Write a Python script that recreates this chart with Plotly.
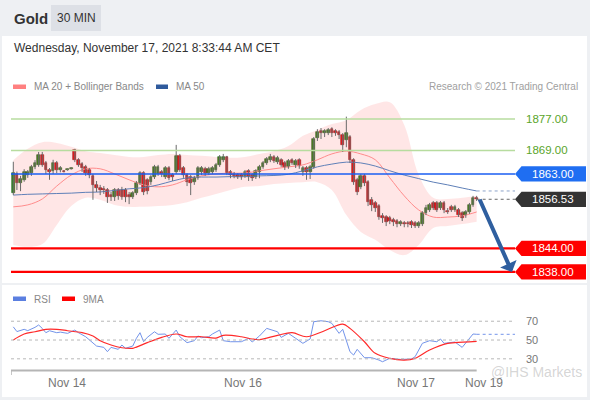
import plotly.graph_objects as go

W, H = 590, 400

# ---------------- data ----------------
opens = [1858.1, 1863.0, 1860.7, 1861.5, 1862.7, 1863.2, 1864.8, 1865.3, 1867.8, 1865.8,
         1864.0, 1863.7, 1865.8, 1864.0, 1863.8, 1864.0, 1864.3, 1869.1, 1866.5, 1865.5,
         1864.8, 1864.0, 1862.5, 1860.2, 1859.4, 1859.1, 1858.9, 1857.6, 1857.1, 1858.9,
         1858.9, 1858.9, 1857.6, 1857.1, 1858.1, 1860.7, 1863.2, 1861.4, 1860.9, 1862.2,
         1863.0, 1863.5, 1862.2, 1864.5, 1862.7, 1863.5, 1867.6, 1864.5, 1862.7, 1862.2,
         1860.9, 1862.0, 1863.5, 1864.3, 1863.2, 1863.5, 1864.0, 1865.3, 1866.5, 1867.3,
         1863.5, 1863.0, 1862.7, 1862.7, 1862.5, 1863.7, 1862.7, 1862.2, 1863.5, 1864.8,
         1865.8, 1866.5, 1867.3, 1866.0, 1866.5, 1865.8, 1864.8, 1866.5, 1865.3, 1866.5,
         1863.5, 1864.5, 1863.5, 1864.8, 1872.2, 1873.9, 1873.4, 1873.4, 1874.4, 1873.9,
         1873.7, 1872.9, 1871.6, 1872.4, 1866.5, 1861.5, 1859.7, 1862.5, 1860.9, 1856.4,
         1855.6, 1854.8, 1852.3, 1852.0, 1851.8, 1851.3, 1851.0, 1850.2, 1850.5, 1850.5,
         1850.7, 1850.5, 1849.7, 1850.2, 1853.0, 1853.8, 1855.6, 1855.6, 1854.3, 1855.6,
         1853.5, 1854.6, 1853.8, 1853.8, 1853.0, 1852.5, 1853.3, 1855.1, 1856.9]
highs = [1866.1, 1863.6, 1862.5, 1864.2, 1864.0, 1865.3, 1866.5, 1868.6, 1868.6, 1866.3,
         1864.5, 1866.6, 1866.3, 1865.0, 1864.0, 1864.4, 1864.7, 1869.4, 1867.0, 1866.0,
         1865.3, 1864.5, 1863.0, 1861.2, 1860.2, 1859.9, 1859.4, 1858.4, 1859.4, 1859.4,
         1859.7, 1859.4, 1858.4, 1858.6, 1861.2, 1863.7, 1863.7, 1861.9, 1862.7, 1865.3,
         1865.3, 1864.0, 1865.0, 1865.0, 1863.2, 1870.4, 1868.1, 1865.0, 1863.2, 1862.7,
         1862.5, 1865.0, 1865.0, 1864.8, 1864.8, 1865.0, 1865.8, 1867.8, 1868.1, 1867.6,
         1864.0, 1863.5, 1863.2, 1863.2, 1864.0, 1864.2, 1863.2, 1864.2, 1865.3, 1866.3,
         1867.3, 1868.1, 1867.8, 1867.6, 1867.0, 1866.3, 1866.8, 1867.0, 1866.8, 1867.0,
         1865.0, 1865.0, 1865.3, 1872.4, 1874.4, 1874.7, 1874.4, 1874.7, 1874.9, 1874.4,
         1874.2, 1873.4, 1877.6, 1872.9, 1867.0, 1862.0, 1863.0, 1863.0, 1861.4, 1857.1,
         1856.1, 1855.3, 1853.0, 1852.5, 1852.3, 1851.8, 1851.5, 1851.2, 1851.0, 1851.0,
         1851.2, 1851.0, 1851.0, 1853.5, 1855.1, 1855.6, 1856.1, 1856.1, 1856.1, 1856.1,
         1854.3, 1855.1, 1855.1, 1854.3, 1853.5, 1853.8, 1855.6, 1857.4, 1857.4]
lows = [1857.6, 1858.9, 1858.6, 1861.0, 1862.0, 1862.5, 1864.2, 1864.8, 1864.8, 1863.0,
        1861.5, 1863.0, 1863.2, 1863.4, 1863.4, 1863.8, 1864.1, 1866.0, 1864.8, 1863.5,
        1862.5, 1861.9, 1856.4, 1858.4, 1857.6, 1857.9, 1855.6, 1856.1, 1856.1, 1856.4,
        1856.4, 1855.8, 1855.3, 1856.6, 1857.6, 1860.2, 1857.6, 1857.8, 1860.2, 1861.7,
        1862.5, 1862.2, 1861.7, 1861.4, 1861.2, 1863.0, 1863.5, 1862.0, 1859.9, 1857.6,
        1860.2, 1861.5, 1862.7, 1862.5, 1862.7, 1863.0, 1863.5, 1864.8, 1866.0, 1862.7,
        1861.9, 1861.9, 1861.7, 1861.5, 1862.0, 1861.2, 1861.2, 1861.7, 1861.9, 1864.3,
        1865.3, 1866.0, 1865.8, 1865.5, 1864.8, 1864.0, 1864.3, 1865.3, 1864.5, 1864.3,
        1862.5, 1861.5, 1861.7, 1864.3, 1871.4, 1871.9, 1872.4, 1872.9, 1872.4, 1872.7,
        1871.9, 1868.6, 1869.8, 1865.8, 1860.2, 1857.6, 1859.1, 1859.9, 1854.8, 1853.5,
        1853.3, 1851.3, 1850.5, 1849.7, 1850.2, 1849.7, 1849.4, 1849.7, 1849.4, 1849.4,
        1849.2, 1849.2, 1849.2, 1849.7, 1852.5, 1853.3, 1853.8, 1853.3, 1853.8, 1853.0,
        1852.8, 1853.3, 1853.3, 1852.0, 1851.0, 1851.8, 1852.8, 1854.6, 1856.1]
closes = [1863.2, 1860.7, 1861.7, 1863.5, 1863.5, 1864.8, 1865.8, 1867.8, 1865.3, 1864.0,
          1863.5, 1865.8, 1864.0, 1864.5, 1863.6, 1864.2, 1864.5, 1866.5, 1865.3, 1864.5,
          1863.2, 1862.7, 1860.2, 1859.4, 1858.9, 1858.9, 1857.1, 1857.1, 1858.9, 1857.4,
          1857.1, 1857.0, 1857.1, 1858.1, 1860.7, 1863.2, 1858.4, 1858.6, 1862.2, 1864.8,
          1864.8, 1863.0, 1864.5, 1862.0, 1862.2, 1867.6, 1864.0, 1862.7, 1860.9, 1860.7,
          1862.0, 1864.5, 1864.5, 1863.2, 1864.3, 1864.5, 1865.3, 1867.3, 1867.3, 1863.2,
          1862.7, 1862.5, 1862.2, 1862.3, 1863.5, 1862.2, 1862.0, 1863.7, 1864.8, 1865.8,
          1866.8, 1867.3, 1866.3, 1867.0, 1865.3, 1864.8, 1866.3, 1865.8, 1866.3, 1865.0,
          1864.5, 1863.5, 1864.8, 1871.9, 1873.7, 1873.4, 1873.9, 1874.2, 1873.4, 1873.4,
          1872.9, 1870.4, 1873.4, 1866.5, 1860.9, 1858.4, 1862.5, 1860.7, 1855.8, 1855.1,
          1854.3, 1852.0, 1851.8, 1850.7, 1851.0, 1850.7, 1850.2, 1850.7, 1850.2, 1850.2,
          1850.0, 1849.7, 1850.5, 1853.0, 1854.3, 1855.1, 1854.3, 1853.8, 1855.6, 1853.8,
          1853.3, 1853.8, 1854.6, 1852.5, 1851.8, 1853.3, 1855.1, 1856.9, 1856.53]

bb_idx = [0, 4, 8, 12, 16, 20, 24, 28, 32, 36, 40, 44, 48, 52, 56, 60, 64,
          68, 72, 76, 80, 84, 88, 92, 96, 100, 104, 108, 112, 116, 120, 124, 128]
bb_upper = [1866.5, 1869.4, 1871.1, 1870.9, 1869.9, 1868.8, 1868.3, 1867.8, 1867.3, 1867.3,
            1867.8, 1868.1, 1867.8, 1867.6, 1867.3, 1867.1, 1867.3, 1868.1, 1868.8, 1870.1,
            1872.7, 1874.2, 1875.7, 1876.7, 1879.3, 1880.8, 1881.3, 1875.5, 1862.7, 1856.9,
            1856.6, 1856.9, 1857.4]
bb_lower = [1844.9, 1844.4, 1845.1, 1850.0, 1854.8, 1856.9, 1856.4, 1855.1, 1854.6, 1854.6,
            1854.8, 1855.1, 1855.8, 1856.9, 1857.9, 1858.9, 1859.7, 1859.9, 1860.4, 1860.7,
            1860.9, 1860.9, 1858.9, 1852.5, 1848.2, 1846.2, 1843.6, 1842.3, 1844.9, 1849.2,
            1849.7, 1850.2, 1850.8]
ma20 = [1854.6, 1855.1, 1856.6, 1859.9, 1862.7, 1864.3, 1864.3, 1863.0, 1861.5, 1860.2,
        1859.7, 1860.2, 1861.5, 1862.5, 1863.0, 1863.2, 1863.2, 1863.8, 1864.3, 1864.8,
        1865.3, 1866.6, 1868.1, 1868.8, 1868.1, 1866.6, 1862.0, 1857.4, 1853.8, 1852.0,
        1852.0, 1852.3, 1853.3]
ma50 = [1857.6, 1857.8, 1857.9, 1858.0, 1858.1, 1858.3, 1858.4, 1858.8, 1859.2, 1859.5,
        1860.2, 1861.2, 1862.0, 1862.2, 1862.2, 1862.3, 1862.3, 1862.5, 1862.6, 1862.9,
        1863.8, 1864.8, 1865.5, 1866.0, 1865.8, 1865.0, 1863.8, 1862.7, 1861.8, 1860.9,
        1860.2, 1859.4, 1858.65]

rsi_idx = [0, 1, 3, 4, 6, 7, 8, 9, 10, 12, 13, 15, 17, 18, 20, 22, 23, 25, 26, 27,
           29, 30, 31, 33, 34, 35, 36, 37, 39, 40, 42, 43, 45, 46, 48, 50, 51, 52, 54, 55,
           57, 58, 60, 63, 65, 66, 68, 70, 73, 74, 76, 78, 80, 82, 83, 85, 87, 88, 90, 91,
           93, 94, 95, 97, 99, 101, 102, 104, 107, 110, 111, 113, 115, 117, 118, 119, 122, 124,
           127, 128]
rsi_val = [64.0, 59.0, 61.4, 60.0, 63.5, 66.0, 62.4, 57.8, 59.9, 57.8, 58.4, 57.1, 60.6, 57.8,
           53.5, 46.5, 43.6, 42.2, 37.6, 42.2, 40.1, 44.7, 41.2, 43.6, 51.8, 57.8, 48.2, 52.8,
           58.8, 56.1, 56.4, 51.8, 60.6, 53.5, 47.2, 49.3, 54.3, 52.5, 53.5, 56.4, 60.6, 49.3,
           48.2, 48.2, 51.8, 47.9, 54.3, 62.4, 58.8, 52.8, 57.1, 51.8, 46.5, 51.1, 69.5, 70.5,
           69.5, 67.7, 57.1, 61.4, 37.6, 34.0, 40.1, 31.2, 31.2, 28.7, 26.9, 30.5, 29.4, 29.8,
           32.3, 46.5, 49.3, 48.2, 51.1, 46.5, 47.9, 42.2, 56.4, 56.1]
ma9_idx = [0, 3, 6, 9, 12, 15, 19, 22, 24, 27, 30, 33, 34, 37, 41, 45, 48, 52, 56, 58,
           63, 66, 68, 73, 77, 81, 86, 91, 93, 97, 100, 104, 108, 111, 115, 120, 122, 128]
ma9_val = [50.0, 56.4, 58.8, 61.4, 61.4, 59.9, 57.8, 54.3, 49.3, 44.7, 41.8, 41.2, 42.5, 47.2,
           52.8, 56.4, 53.5, 53.5, 52.1, 55.0, 53.5, 51.1, 50.5, 55.0, 57.8, 53.5, 59.9, 67.0,
           62.4, 48.2, 35.8, 30.5, 28.7, 30.5, 39.4, 46.5, 47.2, 48.5]

resistances = [1877.0, 1869.0]
pivot = 1863.0
supports = [1844.0, 1838.0]
last_price = closes[-1]
tick_pos = [14.8, 63.4, 111.2, 130.0]
tick_text = ["Nov 14", "Nov 16", "Nov 17", "Nov 19"]
rsi_levels = [70, 50, 30]

# ---------------- layout helpers ----------------
def px(x):
    return x / W

def py(y):
    return 1 - y / H

FONT = "Liberation Sans, Arial, sans-serif"
X_RANGE = [-0.635, 138.59]
Y_RANGE = [1834.93, 1882.354]
RSI_RANGE = [18.1, 92.6]
n = len(closes)
idx = list(range(n))

fig = go.Figure()

# Bollinger band
fig.add_trace(go.Scatter(x=bb_idx, y=bb_upper, mode="lines", line=dict(width=0, shape="spline"),
                         hoverinfo="skip", showlegend=False))
fig.add_trace(go.Scatter(x=bb_idx, y=bb_lower, mode="lines", line=dict(width=0, shape="spline"),
                         fill="tonexty", fillcolor="rgba(255,60,60,0.13)", hoverinfo="skip",
                         showlegend=False))
fig.add_trace(go.Scatter(x=bb_idx, y=ma20, mode="lines",
                         line=dict(color="#ff8c8c", width=1, shape="spline"), showlegend=False))
fig.add_trace(go.Scatter(x=bb_idx, y=ma50, mode="lines",
                         line=dict(color="#5f80b8", width=1, shape="spline"), showlegend=False))
fig.add_trace(go.Scatter(x=[bb_idx[-1], X_RANGE[1]], y=[ma50[-1], ma50[-1]], mode="lines",
                         line=dict(color="#8da3c9", width=1, dash="dot"), showlegend=False))
fig.add_trace(go.Scatter(x=[idx[-1], X_RANGE[1]], y=[last_price, last_price], mode="lines",
                         line=dict(color="#666666", width=1, dash="dot"), showlegend=False))

# wicks
wx, wy = [], []
for i in idx:
    wx += [i, i, None]
    wy += [lows[i], highs[i], None]
fig.add_trace(go.Scatter(x=wx, y=wy, mode="lines", line=dict(color="#6a6a6a", width=1),
                         hoverinfo="skip", showlegend=False))

# bodies
base = [min(o, c) for o, c in zip(opens, closes)]
hgt = [abs(c - o) for o, c in zip(opens, closes)]
up = [c >= o for o, c in zip(opens, closes)]
fig.add_trace(go.Bar(x=idx, y=hgt, base=base, width=0.75,
                     marker=dict(color=["#2f8a22" if u else "#e3161c" for u in up],
                                 line=dict(color=["#1f5a17" if u else "#8a1010" for u in up], width=0.6)),
                     showlegend=False))

# RSI
fig.add_trace(go.Scatter(x=rsi_idx, y=rsi_val, mode="lines", xaxis="x2", yaxis="y2",
                         line=dict(color="#7394ea", width=1), showlegend=False))
fig.add_trace(go.Scatter(x=[rsi_idx[-1], X_RANGE[1]], y=[rsi_val[-1], rsi_val[-1]], mode="lines",
                         xaxis="x2", yaxis="y2",
                         line=dict(color="#7394ea", width=1, dash="dot"), showlegend=False))
fig.add_trace(go.Scatter(x=ma9_idx, y=ma9_val, mode="lines", xaxis="x2", yaxis="y2",
                         line=dict(color="#ff2a2a", width=1.2, shape="spline"), showlegend=False))

shapes = []
# panels
shapes.append(dict(type="rect", xref="paper", yref="paper", x0=px(2), x1=px(587), y0=py(36), y1=py(283),
                   fillcolor="white", line=dict(width=0), layer="below"))
shapes.append(dict(type="rect", xref="paper", yref="paper", x0=px(2), x1=px(587), y0=py(285), y1=py(397),
                   fillcolor="white", line=dict(width=0), layer="below"))
shapes.append(dict(type="rect", xref="paper", yref="paper", x0=px(51), x1=px(101), y0=py(5), y1=py(31),
                   fillcolor="#dde0e6", line=dict(width=0), layer="below"))
# legend swatches
shapes.append(dict(type="rect", xref="paper", yref="paper", x0=px(13), x1=px(26), y0=py(89), y1=py(84.5),
                   fillcolor="#ff8080", line=dict(width=0)))
shapes.append(dict(type="rect", xref="paper", yref="paper", x0=px(156), x1=px(168), y0=py(89), y1=py(84.5),
                   fillcolor="#2f5a9c", line=dict(width=0)))
shapes.append(dict(type="rect", xref="paper", yref="paper", x0=px(13), x1=px(26), y0=py(301), y1=py(296.5),
                   fillcolor="#5b7fe0", line=dict(width=0)))
shapes.append(dict(type="rect", xref="paper", yref="paper", x0=px(62), x1=px(75), y0=py(301), y1=py(296.5),
                   fillcolor="#ff0000", line=dict(width=0)))
# level lines
for r in resistances:
    shapes.append(dict(type="line", xref="x domain", yref="y", x0=0, x1=1, y0=r, y1=r,
                       line=dict(color="#b7dc9f", width=1.5)))
shapes.append(dict(type="line", xref="x domain", yref="y", x0=0, x1=1, y0=pivot, y1=pivot,
                   line=dict(color="#1a5ef2", width=1.5)))
for s in supports:
    shapes.append(dict(type="line", xref="x domain", yref="y", x0=0, x1=1, y0=s, y1=s,
                       line=dict(color="#ff0000", width=2.2)))
# RSI grid
for lv in rsi_levels:
    shapes.append(dict(type="line", xref="x2 domain", yref="y2", x0=0, x1=1, y0=lv, y1=lv,
                       line=dict(color="#b8b8b8", width=1, dash="dot")))
# RSI x axis line
shapes.append(dict(type="line", xref="x2", yref="paper", x0=X_RANGE[0], x1=idx[-1], y0=py(370.5), y1=py(370.5),
                   line=dict(color="#b5b5b5", width=2)))
shapes.append(dict(type="line", xref="x2", yref="paper", x0=X_RANGE[0], x1=X_RANGE[0], y0=py(370), y1=py(375),
                   line=dict(color="#b5b5b5", width=1.5)))

# tags
def tag(price, color):
    h = 1.95
    tip, left, right = px(515), px(521.5), px(586)
    path = (f"M {tip},{price} L {left},{price + h} L {right},{price + h} "
            f"L {right},{price - h} L {left},{price - h} Z")
    return dict(type="path", xref="paper", yref="y", path=path, fillcolor=color, line=dict(width=0))

shapes.append(tag(pivot, "#1f6ef2"))
shapes.append(tag(last_price, "#333333"))
for s in supports:
    shapes.append(tag(s, "#ff0000"))

ann = []
# watermark first so that tick labels are drawn over it
ann.append(dict(x=px(584), y=py(372), xref="paper", yref="paper", text="@IHS Markets", showarrow=False,
                xanchor="right", yanchor="middle", font=dict(size=14, color="rgba(150,150,150,0.4)", family=FONT)))
ann.append(dict(x=px(12), y=py(18), xref="paper", yref="paper", text="<b>Gold</b>", showarrow=False,
                xanchor="left", yanchor="middle", font=dict(size=15, color="#333333", family=FONT)))
ann.append(dict(x=px(76), y=py(18), xref="paper", yref="paper", text="30 MIN", showarrow=False,
                xanchor="center", yanchor="middle", font=dict(size=12, color="#333333", family=FONT)))
ann.append(dict(x=px(12), y=py(48), xref="paper", yref="paper",
                text="Wednesday, November 17, 2021 8:33:44 AM CET", showarrow=False,
                xanchor="left", yanchor="middle", font=dict(size=12, color="#333333", family=FONT)))
ann.append(dict(x=px(32), y=py(86.5), xref="paper", yref="paper", text="MA 20 + Bollinger Bands",
                showarrow=False, xanchor="left", yanchor="middle", font=dict(size=10, color="#888888", family=FONT)))
ann.append(dict(x=px(174), y=py(86.5), xref="paper", yref="paper", text="MA 50",
                showarrow=False, xanchor="left", yanchor="middle", font=dict(size=10, color="#888888", family=FONT)))
ann.append(dict(x=px(580), y=py(86.5), xref="paper", yref="paper", text="Research © 2021 Trading Central",
                showarrow=False, xanchor="right", yanchor="middle", font=dict(size=10, color="#a0a0a0", family=FONT)))
ann.append(dict(x=px(32), y=py(299), xref="paper", yref="paper", text="RSI",
                showarrow=False, xanchor="left", yanchor="middle", font=dict(size=10, color="#888888", family=FONT)))
ann.append(dict(x=px(81), y=py(299), xref="paper", yref="paper", text="9MA",
                showarrow=False, xanchor="left", yanchor="middle", font=dict(size=10, color="#888888", family=FONT)))
for r in resistances:
    ann.append(dict(x=px(524), y=r, xref="paper", yref="y", text=f"{r:.2f}", showarrow=False,
                    xanchor="left", yanchor="middle", font=dict(size=11.5, color="#5aa52a", family=FONT)))
for p in [pivot, last_price] + supports:
    ann.append(dict(x=px(553), y=p, xref="paper", yref="y", text=f"{p:.2f}", showarrow=False,
                    xanchor="center", yanchor="middle", font=dict(size=11.5, color="white", family=FONT)))
for lv in rsi_levels:
    ann.append(dict(x=px(524), y=lv, xref="paper", yref="y2", text=str(lv), showarrow=False,
                    xanchor="left", yanchor="middle", font=dict(size=11, color="#777777", family=FONT)))
for tp, tt in zip(tick_pos, tick_text):
    ann.append(dict(x=tp, y=py(383), xref="x2", yref="paper", text=tt, showarrow=False,
                    xanchor="center", yanchor="middle", font=dict(size=12, color="#777777", family=FONT)))
# forecast arrow
ann.append(dict(x=px(512), y=supports[1], xref="paper", yref="y", ax=-33, ay=-74, text="",
                showarrow=True, arrowhead=1, arrowsize=0.75, arrowwidth=4, arrowcolor="#2f5f9f", standoff=0))

fig.update_layout(
    width=W, height=H,
    margin=dict(l=0, r=0, t=0, b=0, pad=0),
    paper_bgcolor="#eef0f3",
    plot_bgcolor="rgba(0,0,0,0)",
    showlegend=False,
    bargap=0,
    hovermode=False,
    xaxis=dict(domain=[px(11), px(515)], range=X_RANGE, visible=False, fixedrange=True),
    yaxis=dict(domain=[py(284), py(98)], range=Y_RANGE, visible=False, fixedrange=True),
    xaxis2=dict(domain=[px(11), px(515)], range=X_RANGE, visible=False, anchor="y2", fixedrange=True),
    yaxis2=dict(domain=[py(370), py(300)], range=RSI_RANGE, visible=False, anchor="x2", fixedrange=True),
    shapes=shapes,
    annotations=ann,
)

fig.write_html("out.html", config={"displayModeBar": False},
               post_script="document.body.style.margin='0';document.body.style.padding='0';")
